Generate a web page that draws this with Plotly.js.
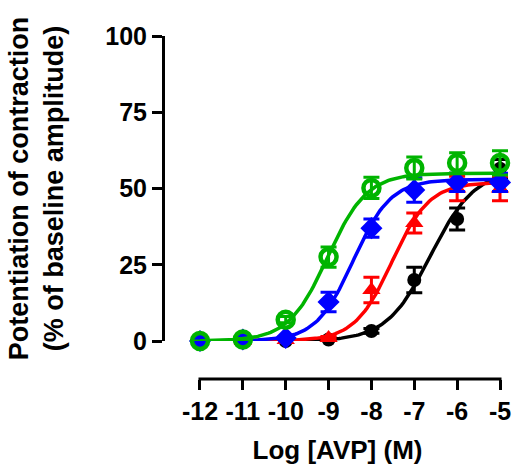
<!DOCTYPE html>
<html><head><meta charset="utf-8">
<script src="https://cdn.plot.ly/plotly-3.0.1.min.js"></script>
<style>html,body{margin:0;padding:0;background:#fff}#chart{width:512px;height:472px}</style>
</head><body><div id="chart"></div>
<script>
// Log [AVP] concentrations (M)
const logConc = [-12, -11, -10, -9, -8, -7, -6, -5];
const xTickVals = [-12, -11, -10, -9, -8, -7, -6, -5];
const xTickText = ['-12', '-11', '-10', '-9', '-8', '-7', '-6', '-5'];
const yTickVals = [0, 25, 50, 75, 100];

// Series means (% of baseline amplitude) and SEM
const blackMean = [0, 0, 0, 0.5, 3.3, 20, 40, 56.5];
const blackErr  = [0, 0, 0, 0.5, 0.8, 4.2, 3.6, 3];
const redMean   = [0, 0, 0.3, 1, 16.7, 38.7, 50, 50];
const redErr    = [0, 0, 0.3, 0.5, 4.2, 3.3, 4, 4];
const blueMean  = [0, 0.5, 1, 12.8, 37, 49.5, 52, 52];
const blueErr   = [0, 0, 0.5, 3.2, 3, 4, 3, 3];
const greenMean = [0, 0.5, 7, 27.5, 50.2, 56.7, 58.4, 58.4];
const greenErr  = [0, 0.3, 1, 3.3, 3.5, 3.6, 3.3, 4];

// Fitted sigmoidal (Hill) curve parameters: [top, logEC50, hill]
const blackFit = [56, -6.62, 0.85];
const redFit   = [52, -7.52, 1.0];
const blueFit  = [53, -8.42, 1.0];
const greenFit = [55, -9.02, 0.95];

function fitCurve(p) {
  const xs = [], ys = [];
  for (let i = 0; i <= 140; i++) {
    const x = -12 + i * 0.05;
    xs.push(x);
    ys.push(p[0] / (1 + Math.pow(10, p[2] * (p[1] - x))));
  }
  return {xs, ys};
}

const series = [
  {mean: blackMean, err: blackErr, fit: blackFit, color: '#000000', symbol: 'circle', size: 14, lw: 0},
  {mean: redMean, err: redErr, fit: redFit, color: '#FF0000', symbol: 'triangle-up', size: 16, lw: 0},
  {mean: blueMean, err: blueErr, fit: blueFit, color: '#0000FF', symbol: 'diamond', size: 17, lw: 0},
  {mean: greenMean, err: greenErr, fit: greenFit, color: '#00B400', symbol: 'circle-open', size: 16, lw: 4.5}
];

const traces = [];
series.forEach(s => {
  const c = fitCurve(s.fit);
  traces.push({x: c.xs, y: c.ys, mode: 'lines', line: {color: s.color, width: 3.5}, hoverinfo: 'skip', showlegend: false});
  traces.push({
    x: logConc, y: s.mean, mode: 'markers', cliponaxis: false, showlegend: false,
    marker: {color: s.color, symbol: s.symbol, size: s.size, line: {color: s.color, width: s.lw}},
    error_y: {type: 'data', array: s.err, visible: true, color: s.color, thickness: 3, width: 8}
  });
});

const font = {family: '"Liberation Sans", Arial, sans-serif', color: '#000'};
const layout = {
  width: 512, height: 472,
  margin: {l: 163, r: 0, t: 36, b: 93},
  paper_bgcolor: '#fff', plot_bgcolor: '#fff',
  showlegend: false,
  xaxis: {
    domain: [0, 1], range: [-12.863, -4.72], anchor: 'free', position: 0,
    tickvals: xTickVals, ticktext: xTickText,
    showgrid: false, zeroline: false, showline: false,
    ticks: 'outside', ticklen: 10, tickwidth: 3, tickcolor: '#000',
    tickfont: Object.assign({size: 25, weight: 'bold'}, font),
    title: {text: '<b>Log [AVP] (M)</b>', font: Object.assign({size: 26}, font), standoff: 16}
  },
  yaxis: {
    domain: [0.1108, 1], range: [0, 100], anchor: 'free', position: 0,
    tickvals: yTickVals,
    showgrid: false, zeroline: false, showline: true, linecolor: '#000', linewidth: 3,
    ticks: 'outside', ticklen: 10, tickwidth: 3, tickcolor: '#000',
    tickfont: Object.assign({size: 25, weight: 'bold'}, font),
    title: {text: '<b>Potentiation of contraction<br>(% of baseline amplitude)</b>', font: Object.assign({size: 27}, font), standoff: 32}
  },
  shapes: [{
    type: 'line', xref: 'x', yref: 'paper', x0: -12.035, x1: -4.965, y0: 0, y1: 0,
    line: {color: '#000', width: 3}
  }]
};

Plotly.newPlot('chart', traces, layout, {displayModeBar: false, staticPlot: true});
</script>
</body></html>
